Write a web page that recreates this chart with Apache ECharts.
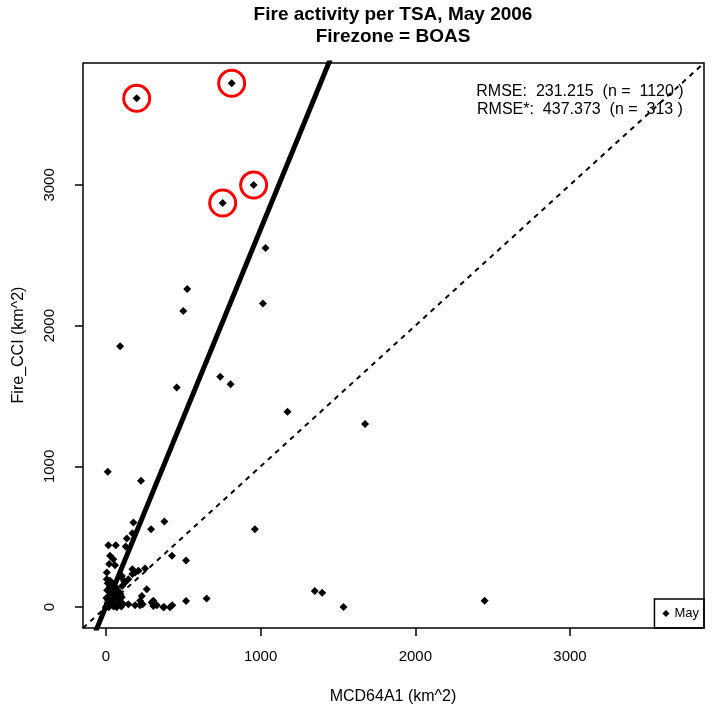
<!DOCTYPE html>
<html>
<head>
<meta charset="utf-8">
<script src="https://cdn.jsdelivr.net/npm/echarts@6/dist/echarts.min.js"></script>
<style>
  html, body { margin: 0; padding: 0; background: #fff; }
  #chart { width: 712px; height: 712px; }
</style>
</head>
<body>
<div id="chart"></div>
<script>
// MCD64A1 burned area (x) vs Fire_CCI burned area (y), km^2
const mcd = [
  199, 813, 955, 755, 1032, 526, 500, 1015, 92, 458, 739, 806, 1174, 1675, 12, 963,
  227, 178, 378, 292, 171, 135, 16, 64, 128, 27, 48, 21, 59, 171, 210, 189, 6, 253,
  171, 6, 27, 124, 145, 264, 103, 427, 518, 1350, 1398, 1536, 2448, 232, 238, 296,
  307, 376, 429, 518, 651, 145, 189, 221, 221, 307, 329, 371, 414, 70, 103, 119, 96,
  0, 5, 10, 15, 20, 8, 25, 30, 40, 45, 50, 60, 65, 75, 80, 90, 100, 110, 12, 35, 55,
  85, 3, 18, 70, 95, 105, 40
];
const cci = [
  3615, 3722, 2999, 2871, 2552, 2260, 2104, 2158, 1853, 1561, 1637, 1583, 1388, 1301, 962, 554,
  898, 602, 609, 554, 526, 488, 440, 440, 431, 365, 341, 306, 298, 270, 258, 247, 247, 275,
  235, 199, 187, 176, 199, 128, 222, 365, 332, 114, 102, 2, 45, 80, 21, 33,
  9, 2, 14, 43, 62, 21, 14, 45, 14, 45, 14, 0, 0, 104, 71, 185, 215,
  0, 10, 30, 50, 80, 120, 150, 20, 60, 100, 5, 30, 140, 70, 15, 40, 5, 25, 170, 130, 85,
  110, 65, 0, 0, 90, 150, 170
];
// outliers circled in red
const flaggedX = [199, 813, 955, 755];
const flaggedY = [3615, 3722, 2999, 2871];

// fitted line and 1:1 line
const fitSlope = 2.68;
const fitIntercept = 5;
const axisMin = -148;
const axisMax = 3866;
const ticks = [0, 1000, 2000, 3000];

const rmseLines = ['RMSE:  231.215  (n =  1120 )', 'RMSE*:  437.373  (n =  313 )'];

const font = 'Liberation Sans, Arial, Helvetica, sans-serif';

const points = mcd.map((x, i) => [x, cci[i]]);
const flagged = flaggedX.map((x, i) => [x, flaggedY[i]]);
const fitLine = [axisMin, axisMax].map(x => [x, fitSlope * x + fitIntercept]);
const oneToOne = [[axisMin, axisMin], [axisMax, axisMax]];

const chart = echarts.init(document.getElementById('chart'));

const axisCommon = {
  type: 'value',
  min: axisMin,
  max: axisMax,
  splitLine: { show: false },
  axisLine: { show: false, onZero: false },
  axisTick: { show: true, length: 8, customValues: ticks, lineStyle: { color: '#000', width: 1.5 } },
  axisLabel: { customValues: ticks, color: '#000', fontSize: 15, fontFamily: font, formatter: v => String(v) }
};

chart.setOption({
  animation: false,
  backgroundColor: '#fff',
  grid: {
    left: 83, top: 63, width: 621, height: 565,
    show: true, borderColor: '#000', borderWidth: 1.5, backgroundColor: 'transparent'
  },
  xAxis: Object.assign({}, axisCommon, {
    axisLabel: Object.assign({}, axisCommon.axisLabel, { margin: 21 })
  }),
  yAxis: Object.assign({}, axisCommon, {
    axisLabel: Object.assign({}, axisCommon.axisLabel, { rotate: 90, margin: 26 })
  }),
  legend: {
    data: [{ name: 'May', icon: 'diamond' }],
    right: 8, bottom: 84,
    itemWidth: 7, itemHeight: 7, itemGap: 4,
    borderColor: '#000', borderWidth: 1.5, borderRadius: 0,
    padding: [8, 5, 8, 8],
    textStyle: { color: '#000', fontSize: 13, fontFamily: font }
  },
  graphic: [
    { type: 'text', x: 393, y: 4, style: { text: 'Fire activity per TSA, May 2006\nFirezone = BOAS', align: 'center', font: 'bold 19px ' + font, lineHeight: 22, fill: '#000' } },
    { type: 'text', x: 393, y: 697, style: { text: 'MCD64A1 (km^2)', align: 'center', verticalAlign: 'middle', font: '16px ' + font, fill: '#000' } },
    { type: 'text', x: 19, y: 345, rotation: Math.PI / 2, style: { text: 'Fire_CCI (km^2)', align: 'center', verticalAlign: 'middle', font: '16px ' + font, fill: '#000' } },
    { type: 'text', x: 580, y: 92, style: { text: rmseLines[0], align: 'center', verticalAlign: 'middle', font: '16px ' + font, fill: '#000' } },
    { type: 'text', x: 580, y: 110, style: { text: rmseLines[1], align: 'center', verticalAlign: 'middle', font: '16px ' + font, fill: '#000' } }
  ],
  series: [
    {
      name: 'May',
      type: 'scatter',
      symbol: 'diamond',
      symbolSize: 8,
      itemStyle: { color: '#000', opacity: 1 },
      data: points
    },
    {
      name: 'fit',
      type: 'line',
      symbol: 'none',
      lineStyle: { color: '#000', width: 5 },
      data: fitLine
    },
    {
      name: 'one',
      type: 'line',
      symbol: 'none',
      lineStyle: { color: '#000', width: 2, type: [5, 5] },
      data: oneToOne
    },
    {
      name: 'flagged',
      type: 'scatter',
      symbol: 'circle',
      symbolSize: 26,
      itemStyle: { color: 'transparent', borderColor: '#ff0000', borderWidth: 3, opacity: 1 },
      data: flagged
    }
  ]
});
</script>
</body>
</html>
